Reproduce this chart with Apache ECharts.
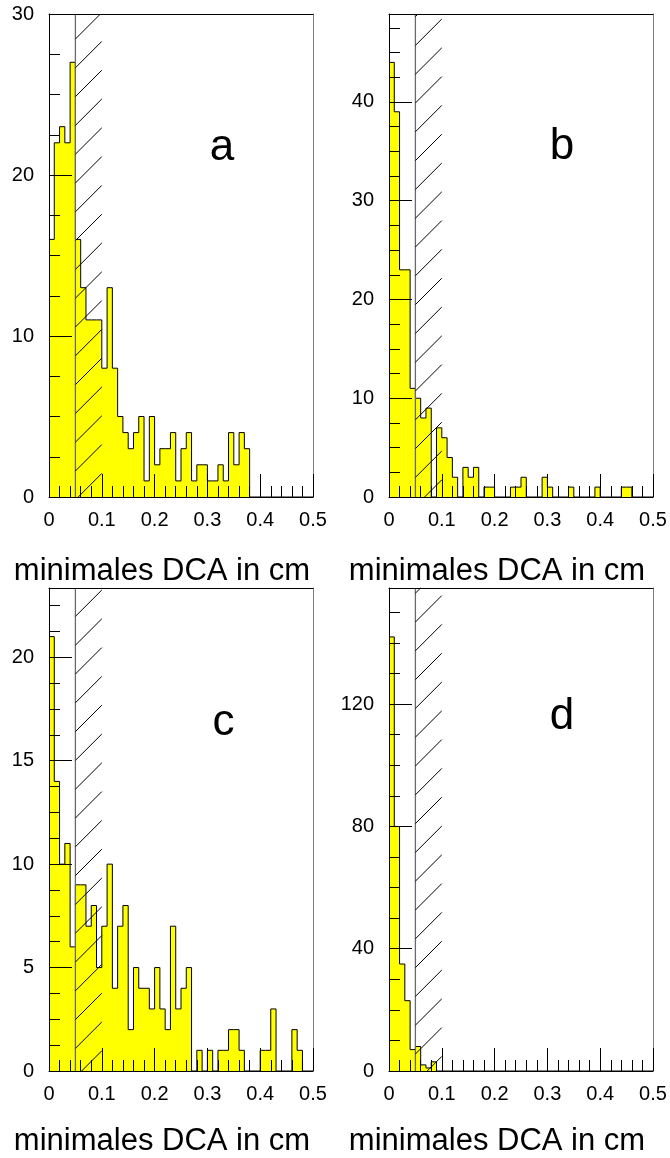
<!DOCTYPE html>
<html><head><meta charset="utf-8">
<script src="https://cdn.jsdelivr.net/npm/echarts@6/dist/echarts.min.js"></script>
<style>html,body{margin:0;padding:0;background:#fff}#c{width:670px;height:1158px}</style>
</head><body><div id="c"></div>
<script>
// ---- data ----
const binWidth = 0.01;           // bin width in cm (50 bins from 0 to 0.5)
const xRange = [0, 0.5];
const xTickStep = 0.1;
const cutRegion = [0.05, 0.1];   // hatched cut region
const xTitle = 'minimales DCA in cm';
const panelLabels = ['a', 'b', 'c', 'd'];

const countsA = [16,22,23,22,27,16,13,11,11,11,8,13,8,5,4,3,4,5,1,5,2,3,3,4,1,3,4,1,2,2,1,1,2,1,4,2,4,3,0,0,0,0,0,0,0,0,0,0,0,0];
const countsB = [44,39,23,23,11,10,8,9,0,7,6,4,2,0,3,2,3,0,1,1,0,0,0,1,1,2,0,0,0,2,1,0,0,0,1,0,0,0,0,1,0,0,0,0,1,1,0,0,0,0];
const countsC = [21,14,10,11,6,9,9,7,8,5,7,10,4,7,8,2,5,4,4,3,5,3,2,7,3,4,5,0,1,0,1,0,1,1,2,2,1,0,0,0,1,1,3,0,0,0,2,1,0,0];
const countsD = [142,80,35,23,7,8,2,1,3,0,0,0,0,0,0,0,0,0,0,0,0,0,0,0,0,0,0,0,0,0,0,0,0,0,0,0,0,0,0,0,0,0,0,0,0,0,0,0,0,0];

const yMaxes = [30, 48.9, 23.35, 158];
const yIntervals = [10, 10, 5, 40];

// ---- layout / style ----
const FONT = "'Liberation Sans', Arial, Helvetica, sans-serif";
const layout = [
  {left: 49,  top: 14,  phase: 25,   label: [222, 147.5],   title: [162, 571]},
  {left: 389, top: 14,  phase: 31.4, label: [562, 147],     title: [497, 571]},
  {left: 49,  top: 588, phase: 28.4, label: [223.5, 723],   title: [162, 1141]},
  {left: 389, top: 588, phase: 34,   label: [562, 717],     title: [497, 1141]}
];
const PW = 264, PH = 483, HATCH_SP = 28.8;

const allCounts = [countsA, countsB, countsC, countsD];

function histData(counts) {
  const d = counts.map((v, i) => [+(xRange[0] + i * binWidth).toFixed(4), v]);
  d.push([xRange[1], counts[counts.length - 1]]);
  return d;
}

function makeHatch(phase) {
  return function (params, api) {
    const p0 = api.coord([api.value(0), 0]);
    const p1 = api.coord([api.value(1), 0]);
    const cs = params.coordSys;
    const top = cs.y, bottom = cs.y + cs.height;
    const xl = p0[0], xr = p1[0], w = xr - xl;
    const children = [{
      type: 'line',
      shape: {x1: xl, y1: top, x2: xl, y2: bottom},
      style: {stroke: '#6a6a6a', lineWidth: 1.3}
    }];
    for (let c = top + phase - 2 * HATCH_SP; c < bottom + w + HATCH_SP; c += HATCH_SP) {
      let ax = xl, ay = c, bx = xr, by = c - w;
      if (ay > bottom) { ax = xl + (ay - bottom); ay = bottom; }
      if (by < top) { bx = xr - (top - by); by = top; }
      if (ax >= bx) continue;
      children.push({type: 'line', shape: {x1: ax, y1: ay, x2: bx, y2: by},
        style: {stroke: '#000', lineWidth: 1}});
    }
    return {type: 'group', children};
  };
}

const grid = [], xAxis = [], yAxis = [], series = [], graphic = [];
layout.forEach((L, i) => {
  grid.push({left: L.left, top: L.top, width: PW, height: PH, show: false});
  xAxis.push({
    gridIndex: i, type: 'value', min: xRange[0], max: xRange[1], interval: xTickStep, z: 5,
    axisLine: {onZero: false, lineStyle: {color: '#000', width: 1}},
    axisTick: {inside: true, length: 23, lineStyle: {color: '#000', width: 1}},
    minorTick: {show: true, splitNumber: 5, length: 11, lineStyle: {color: '#000', width: 1}},
    splitLine: {show: false}, minorSplitLine: {show: false},
    axisLabel: {color: '#000', fontSize: 20, fontFamily: FONT, margin: 13,
      formatter: v => String(+v.toFixed(2))}
  });
  xAxis.push({
    gridIndex: i, type: 'value', position: 'top', min: xRange[0], max: xRange[1], z: 5,
    axisLine: {onZero: false, lineStyle: {color: '#000', width: 1}},
    axisTick: {show: false}, axisLabel: {show: false}, splitLine: {show: false}
  });
  const iv = yIntervals[i];
  yAxis.push({
    gridIndex: i, type: 'value', min: 0, max: yMaxes[i], interval: iv, z: 5,
    axisLine: {onZero: false, lineStyle: {color: '#000', width: 1}},
    axisTick: {inside: true, length: 23, lineStyle: {color: '#000', width: 1}},
    minorTick: {show: true, splitNumber: 4, length: 11, lineStyle: {color: '#000', width: 1}},
    splitLine: {show: false}, minorSplitLine: {show: false},
    axisLabel: {color: '#000', fontSize: 20, fontFamily: FONT, margin: 15, showMaxLabel: true,
      formatter: v => (Math.abs(v / iv - Math.round(v / iv)) < 1e-6 ? String(v) : '')}
  });
  yAxis.push({
    gridIndex: i, type: 'value', position: 'right', min: 0, max: yMaxes[i], z: 5,
    axisLine: {onZero: false, lineStyle: {color: '#808080', width: 1}},
    axisTick: {show: false}, axisLabel: {show: false}, splitLine: {show: false}
  });
  series.push({
    type: 'line', xAxisIndex: 2 * i, yAxisIndex: 2 * i, step: 'end',
    data: histData(allCounts[i]), showSymbol: false, symbol: 'none', z: 2,
    lineStyle: {color: '#000', width: 1},
    areaStyle: {color: '#ffff00', opacity: 1},
    animation: false
  });
  series.push({
    type: 'custom', xAxisIndex: 2 * i, yAxisIndex: 2 * i, z: 4, clip: false,
    renderItem: makeHatch(L.phase), data: [cutRegion], animation: false, silent: true
  });
  graphic.push({type: 'text', x: L.label[0], y: L.label[1], z: 10,
    style: {text: panelLabels[i], font: '44px ' + FONT, fill: '#000', align: 'center', verticalAlign: 'middle'}});
  graphic.push({type: 'text', x: L.title[0], y: L.title[1], z: 10,
    style: {text: xTitle, font: '31px ' + FONT, fill: '#000', align: 'center', verticalAlign: 'middle'}});
});

const chart = echarts.init(document.getElementById('c'), null, {renderer: 'canvas'});
chart.setOption({animation: false, backgroundColor: '#fff', grid, xAxis, yAxis, series, graphic});
</script>
</body></html>
